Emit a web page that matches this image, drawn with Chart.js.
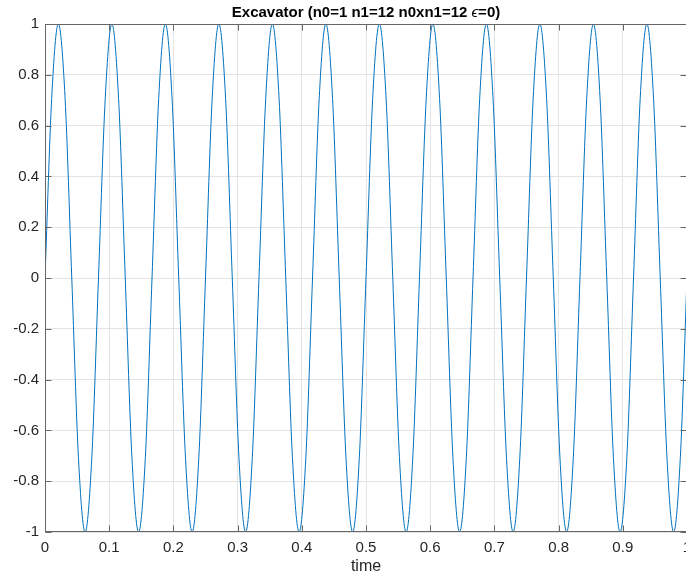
<!DOCTYPE html>
<html><head><meta charset="utf-8">
<script src="https://cdn.jsdelivr.net/npm/chart.js@4/dist/chart.umd.min.js"></script>
<style>
html,body{margin:0;padding:0;overflow:hidden;background:#fff;width:686px;height:579px}
#wrap{width:688px;height:579px}
</style>
</head><body><div id="wrap"><canvas id="c" width="688" height="579"></canvas></div>
<script>
const time = [
 0, 0.0104, 0.0208, 0.0313, 0.0417, 0.0521, 0.0625, 0.0729,
 0.0833, 0.0938, 0.1042, 0.1146, 0.125, 0.1354, 0.1458, 0.1563,
 0.1667, 0.1771, 0.1875, 0.1979, 0.2083, 0.2188, 0.2292, 0.2396,
 0.25, 0.2604, 0.2708, 0.2813, 0.2917, 0.3021, 0.3125, 0.3229,
 0.3333, 0.3438, 0.3542, 0.3646, 0.375, 0.3854, 0.3958, 0.4063,
 0.4167, 0.4271, 0.4375, 0.4479, 0.4583, 0.4688, 0.4792, 0.4896,
 0.5, 0.5104, 0.5208, 0.5313, 0.5417, 0.5521, 0.5625, 0.5729,
 0.5833, 0.5938, 0.6042, 0.6146, 0.625, 0.6354, 0.6458, 0.6563,
 0.6667, 0.6771, 0.6875, 0.6979, 0.7083, 0.7188, 0.7292, 0.7396,
 0.75, 0.7604, 0.7708, 0.7813, 0.7917, 0.8021, 0.8125, 0.8229,
 0.8333, 0.8438, 0.8542, 0.8646, 0.875, 0.8854, 0.8958, 0.9063,
 0.9167, 0.9271, 0.9375, 0.9479, 0.9583, 0.9688, 0.9792, 0.9896,
 1
];
const amplitude = [
 0, 0.707, 1, 0.707, 0, -0.707, -1, -0.707,
 0, 0.707, 1, 0.707, 0, -0.707, -1, -0.707,
 0, 0.707, 1, 0.707, 0, -0.707, -1, -0.707,
 0, 0.707, 1, 0.707, 0, -0.707, -1, -0.707,
 0, 0.707, 1, 0.707, 0, -0.707, -1, -0.707,
 0, 0.707, 1, 0.707, 0, -0.707, -1, -0.707,
 0, 0.707, 1, 0.707, 0, -0.707, -1, -0.707,
 0, 0.707, 1, 0.707, 0, -0.707, -1, -0.707,
 0, 0.707, 1, 0.707, 0, -0.707, -1, -0.707,
 0, 0.707, 1, 0.707, 0, -0.707, -1, -0.707,
 0, 0.707, 1, 0.707, 0, -0.707, -1, -0.707,
 0, 0.707, 1, 0.707, 0, -0.707, -1, -0.707,
 0
];
const xTicks = [0, 0.1, 0.2, 0.3, 0.4, 0.5, 0.6, 0.7, 0.8, 0.9, 1];
const yTicks = [-1, -0.8, -0.6, -0.4, -0.2, 0, 0.2, 0.4, 0.6, 0.8, 1];
const titleParts = ["Excavator (n0=1 n1=12 n0xn1=12 ", "\u03F5", "=0)"];
const xLabel = "time";

const FONT = "'Liberation Sans', Arial, Helvetica, sans-serif";
const TEXT = '#262626';

const boxPlugin = {
  id: 'box',
  afterDatasetsDraw(chart) {
    const {ctx, chartArea: a, scales: {x, y}} = chart;
    ctx.save();
    ctx.strokeStyle = '#666666';
    ctx.lineWidth = 1;
    const L = Math.round(a.left) + 0.5, R = Math.round(a.right) - 0.5;
    const T = Math.round(a.top) + 0.5, B = Math.round(a.bottom) - 0.5;
    ctx.strokeRect(L, T, R - L, B - T);
    ctx.beginPath();
    xTicks.forEach(v => {
      const px = Math.round(x.getPixelForValue(v)) + 0.5;
      ctx.moveTo(px, B); ctx.lineTo(px, B - 6);
      ctx.moveTo(px, T); ctx.lineTo(px, T + 6);
    });
    yTicks.forEach(v => {
      const py = Math.round(y.getPixelForValue(v)) + 0.5;
      ctx.moveTo(L, py); ctx.lineTo(L + 6, py);
      ctx.moveTo(R, py); ctx.lineTo(R - 6, py);
    });
    ctx.stroke();
    // title with mixed styles
    const fonts = ["bold 15px " + FONT, "italic 15px " + FONT, "bold 15px " + FONT];
    const widths = titleParts.map((t, i) => { ctx.font = fonts[i]; return ctx.measureText(t).width; });
    const total = widths.reduce((s, w) => s + w, 0);
    let cx = (a.left + a.right) / 2 - total / 2;
    ctx.fillStyle = '#000';
    ctx.textBaseline = 'alphabetic';
    ctx.textAlign = 'left';
    titleParts.forEach((t, i) => { ctx.font = fonts[i]; ctx.fillText(t, cx, 17); cx += widths[i]; });
    ctx.restore();
  }
};

new Chart(document.getElementById('c'), {
  type: 'line',
  data: {
    datasets: [{
      data: time.map((t, i) => ({x: t, y: amplitude[i]})),
      borderColor: '#0072BD',
      borderWidth: 1,
      pointRadius: 0,
      fill: false,
      cubicInterpolationMode: 'monotone'
    }]
  },
  options: {
    responsive: false,
    animation: false,
    layout: {padding: {top: 24, right: 1, left: 0, bottom: 0}},
    plugins: {legend: {display: false}, title: {display: false}, tooltip: {enabled: false}},
    scales: {
      x: {
        type: 'linear', min: 0, max: 1,
        afterBuildTicks: s => { s.ticks = xTicks.map(v => ({value: v})); },
        afterFit: s => { s.height = 47; s.paddingLeft = 0; s.paddingRight = 0; },
        grid: {color: '#e4e4e4', drawTicks: false},
        border: {display: false},
        ticks: {padding: 7, color: TEXT, font: {family: FONT, size: 15}, maxRotation: 0, autoSkip: false,
                callback: v => String(v)},
        title: {display: true, text: xLabel, color: TEXT, font: {family: FONT, size: 16}, padding: {top: 0, bottom: 3}}
      },
      y: {
        type: 'linear', min: -1, max: 1,
        afterBuildTicks: s => { s.ticks = yTicks.map(v => ({value: v})); },
        afterFit: s => { s.width = 45; s.paddingTop = 0; s.paddingBottom = 0; },
        grid: {color: '#e4e4e4', drawTicks: false},
        border: {display: false},
        ticks: {padding: 6, color: TEXT, font: {family: FONT, size: 15}, autoSkip: false,
                callback: v => String(v)}
      }
    }
  },
  plugins: [boxPlugin]
});
</script>
</body></html>
